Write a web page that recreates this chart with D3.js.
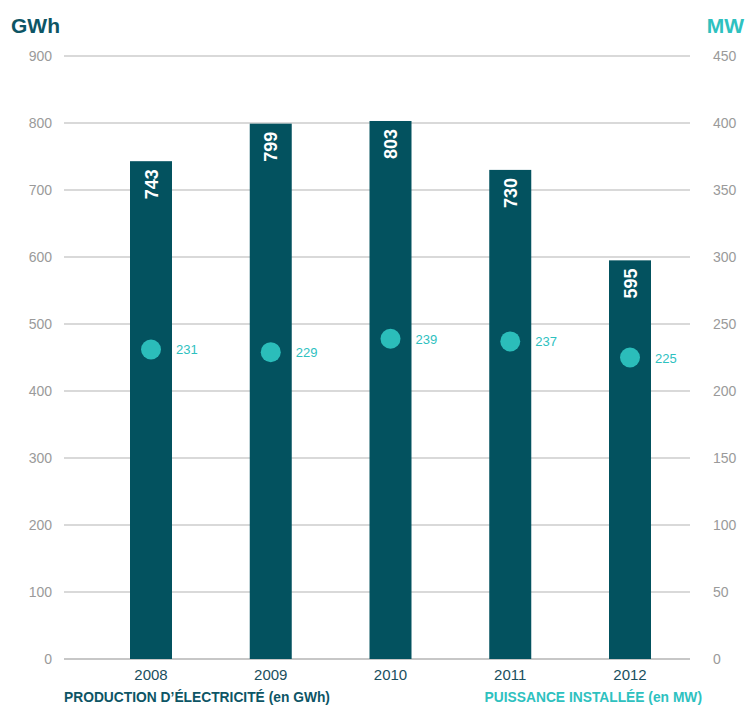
<!DOCTYPE html>
<html>
<head>
<meta charset="utf-8">
<script src="https://cdn.jsdelivr.net/npm/d3@7"></script>
<style>
  body { margin: 0; background: #fff; }
  text { font-family: "Liberation Sans", Arial, sans-serif; }
</style>
</head>
<body>
<div id="myDiv"></div>
<script>
// Data
var years = ['2008', '2009', '2010', '2011', '2012'];
var production = [743, 799, 803, 730, 595];   // GWh
var puissance = [231, 229, 239, 237, 225];    // MW
var gwhTicks = [0, 100, 200, 300, 400, 500, 600, 700, 800, 900];
var mwTicks = [0, 50, 100, 150, 200, 250, 300, 350, 400, 450];

// Styles
var barColor = '#03525f';
var dotColor = '#2bbdba';
var darkText = '#0d5565';
var tealText = '#2ec1bf';
var tickColor = '#9a9a9a';
var gridColor = '#cccccc';

var width = 746, height = 706;
var plotLeft = 64, plotRight = 690, plotTop = 56, plotBottom = 659;

var svg = d3.select('#myDiv').append('svg')
  .attr('width', width)
  .attr('height', height);

var x = d3.scalePoint()
  .domain(years)
  .range([151, 630]);

var yLeft = d3.scaleLinear()
  .domain([0, 900])
  .range([plotBottom, plotTop]);

var yRight = d3.scaleLinear()
  .domain([0, 450])
  .range([plotBottom, plotTop]);

var barWidth = 42;

// Gridlines
svg.append('g')
  .selectAll('line')
  .data(gwhTicks)
  .enter().append('line')
    .attr('x1', plotLeft)
    .attr('x2', plotRight)
    .attr('y1', function(d){ return yLeft(d); })
    .attr('y2', function(d){ return yLeft(d); })
    .attr('stroke', function(d){ return d === 0 ? '#b5b5b5' : gridColor; })
    .attr('stroke-width', 1.5);

// Left axis labels
var leftAxis = svg.append('g')
  .attr('transform', 'translate(52,0)')
  .call(d3.axisLeft(yLeft).tickValues(gwhTicks).tickSize(0).tickPadding(0));
leftAxis.select('.domain').remove();
leftAxis.selectAll('text')
  .style('font-size', '14px')
  .style('fill', tickColor)
  .attr('dy', '0.3em');

// Right axis labels
var rightAxis = svg.append('g')
  .attr('transform', 'translate(713,0)')
  .call(d3.axisRight(yRight).tickValues(mwTicks).tickSize(0).tickPadding(0));
rightAxis.select('.domain').remove();
rightAxis.selectAll('text')
  .style('font-size', '14px')
  .style('fill', tickColor)
  .attr('dy', '0.3em');

// Bars
svg.append('g')
  .selectAll('rect')
  .data(production)
  .enter().append('rect')
    .attr('x', function(d, i){ return x(years[i]) - barWidth / 2; })
    .attr('y', function(d){ return yLeft(d); })
    .attr('width', barWidth)
    .attr('height', function(d){ return plotBottom - yLeft(d); })
    .attr('fill', barColor);

// Bar value labels (rotated)
svg.append('g')
  .selectAll('text')
  .data(production)
  .enter().append('text')
    .attr('transform', function(d, i){
      return 'translate(' + (x(years[i]) + 6.5) + ',' + (yLeft(d) + 8) + ') rotate(-90)';
    })
    .attr('text-anchor', 'end')
    .style('font-size', '18px')
    .style('font-weight', 'bold')
    .style('fill', '#ffffff')
    .text(function(d){ return d; });

// Dots
svg.append('g')
  .selectAll('circle')
  .data(puissance)
  .enter().append('circle')
    .attr('cx', function(d, i){ return x(years[i]); })
    .attr('cy', function(d){ return yRight(d); })
    .attr('r', 10)
    .attr('fill', dotColor);

svg.append('g')
  .selectAll('text')
  .data(puissance)
  .enter().append('text')
    .attr('x', function(d, i){ return x(years[i]) + 25; })
    .attr('y', function(d){ return yRight(d) + 5; })
    .style('font-size', '13px')
    .style('fill', tealText)
    .text(function(d){ return d; });

// Year labels
svg.append('g')
  .selectAll('text')
  .data(years)
  .enter().append('text')
    .attr('x', function(d){ return x(d); })
    .attr('y', 680)
    .attr('text-anchor', 'middle')
    .style('font-size', '15px')
    .style('fill', '#1a4f5e')
    .text(function(d){ return d; });

// Axis titles
svg.append('text')
  .attr('x', 11)
  .attr('y', 33)
  .style('font-size', '21px')
  .style('font-weight', 'bold')
  .style('fill', darkText)
  .text('GWh');

svg.append('text')
  .attr('x', 744)
  .attr('y', 33)
  .attr('text-anchor', 'end')
  .style('font-size', '21px')
  .style('font-weight', 'bold')
  .style('fill', tealText)
  .text('MW');

// Legend captions
svg.append('text')
  .attr('x', 64)
  .attr('y', 702)
  .style('font-size', '13.8px')
  .style('font-weight', 'bold')
  .style('fill', darkText)
  .text('PRODUCTION D\u2019\u00C9LECTRICIT\u00C9 (en GWh)');

svg.append('text')
  .attr('x', 702)
  .attr('y', 702)
  .attr('text-anchor', 'end')
  .style('font-size', '13.8px')
  .style('font-weight', 'bold')
  .style('fill', tealText)
  .text('PUISSANCE INSTALL\u00C9E (en MW)');
</script>
</body>
</html>
